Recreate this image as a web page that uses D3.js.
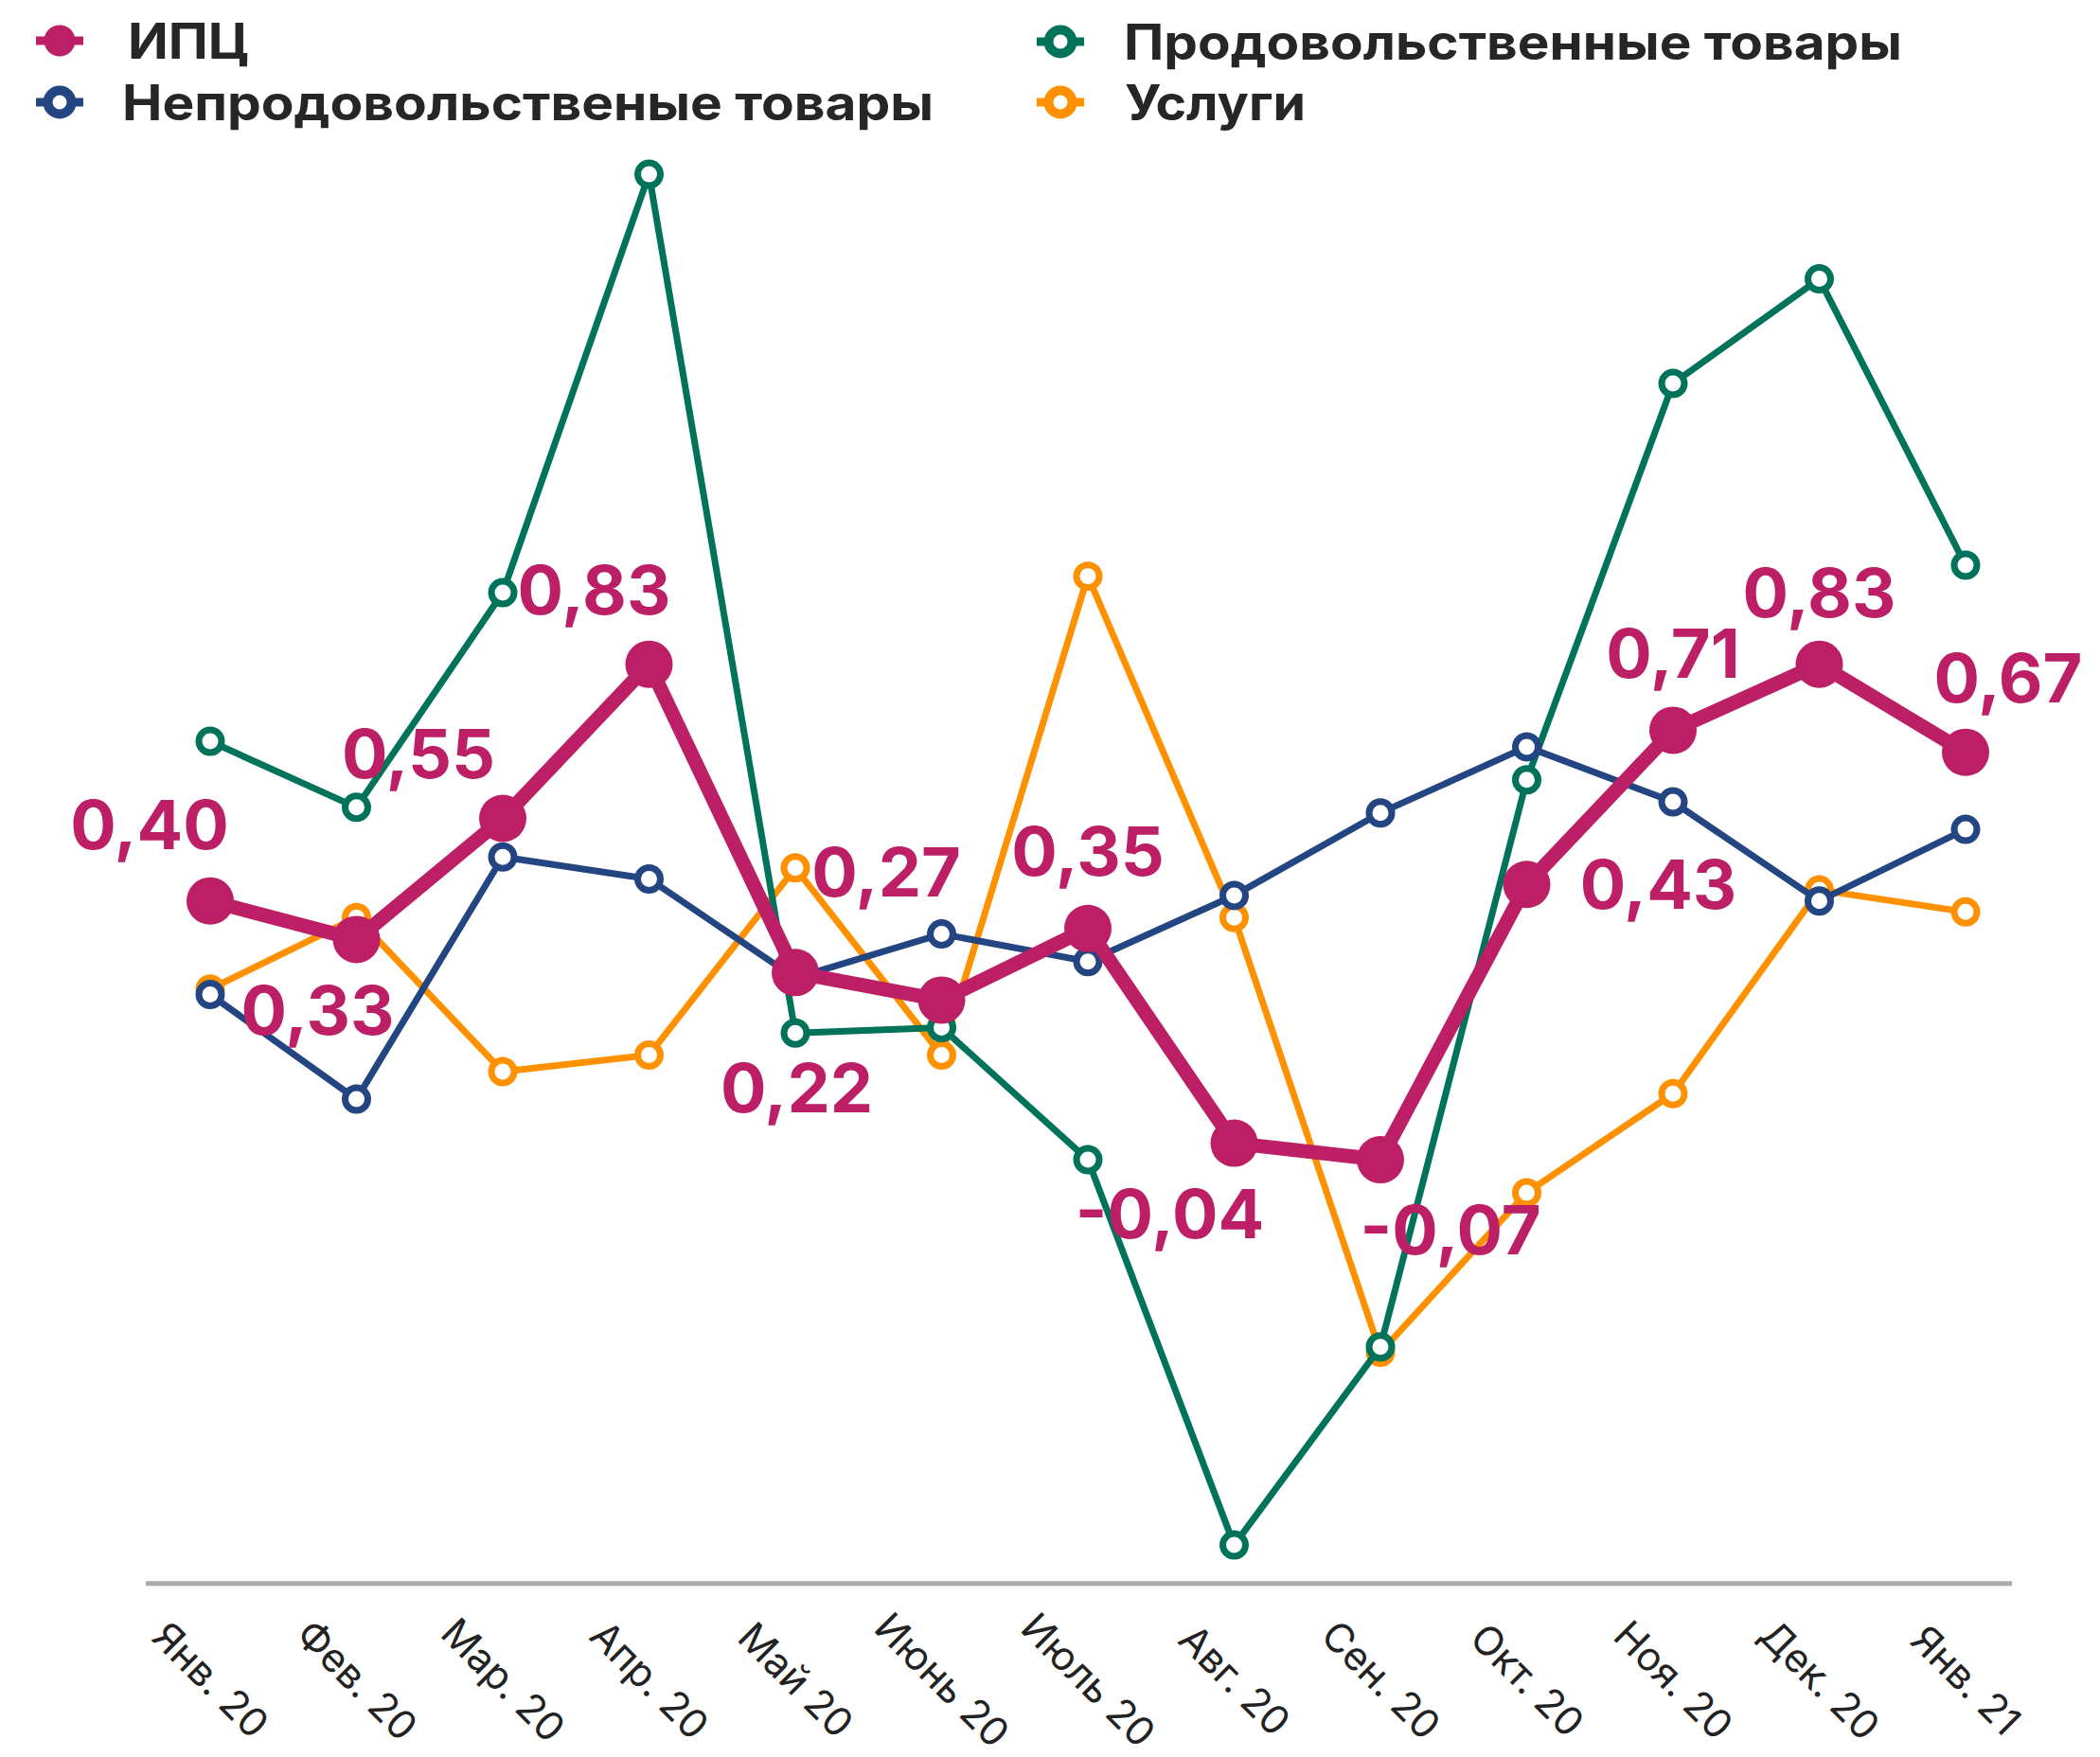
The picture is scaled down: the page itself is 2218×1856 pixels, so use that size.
<!DOCTYPE html>
<html>
<head>
<meta charset="utf-8">
<script src="https://cdn.jsdelivr.net/npm/d3@7"></script>
<style>
body { margin:0; background:#fff; }
</style>
</head>
<body>
<svg id="graph"></svg>
<script>
var months = ["Янв. 20","Фев. 20","Мар. 20","Апр. 20","Май 20","Июнь 20","Июль 20",
              "Авг. 20","Сен. 20","Окт. 20","Ноя. 20","Дек. 20","Янв. 21"];

var cpi      = [0.40, 0.33, 0.55, 0.83, 0.27, 0.22, 0.35, -0.04, -0.07, 0.43, 0.71, 0.83, 0.67];
var nonFood  = [0.23, 0.04, 0.48, 0.44, 0.26, 0.34, 0.29, 0.41, 0.56, 0.68, 0.58, 0.40, 0.53];
var food     = [0.69, 0.57, 0.96, 1.72, 0.16, 0.17, -0.07, -0.77, -0.41, 0.62, 1.34, 1.53, 1.01];
var services = [0.24, 0.37, 0.09, 0.12, 0.46, 0.12, 0.99, 0.37, -0.42, -0.13, 0.05, 0.42, 0.38];

var seriesNames = ["ИПЦ","Непродовольственые товары","Продовольственные товары","Услуги"];

// where each CPI label sits relative to its point
var labelOffsets = [[-64,-81],[-41,75],[-89,-68],[-58,-79],[96,-106],[-153,93],[0,-82],
                    [-68,74],[74,74],[139,0],[0,-81],[0,-76],[45,-79]];

var colors = {cpi:"#bc1f66", nonFood:"#234582", food:"#00735a", services:"#ff9100"};

var screen = {width:2218, height:1856};

var svg = d3.select("#graph")
    .attr("width",screen.width)
    .attr("height",screen.height)

var xScale = d3.scalePoint()
    .domain(months)
    .range([222,2076])

var yScale = d3.scaleLinear()
    .domain([-0.84,1.8])
    .range([1672.8,137.6])

var fmt = function(v)
{
    return d3.format(".2f")(v).replace(".",",").replace("−","-")
}

// bottom axis line only
var xAxis = d3.axisBottom(xScale).tickSize(0).tickPadding(0)
var axis = svg.append("g")
    .attr("transform","translate(0,"+yScale(-0.84)+")")
    .call(xAxis)
axis.select(".domain")
    .attr("stroke","#aaaaaa")
    .attr("stroke-width",5)
    .attr("d","M154,0H2125")
axis.selectAll(".tick text")
    .attr("font-family","Inter, 'Noto Sans', sans-serif")
    .attr("font-size",42)
    .attr("fill","#222")
    .attr("text-anchor","middle")
    .attr("dy","0.35em")
    .attr("transform","translate(0,102) rotate(45)")

var drawSeries = function(values,color,lineWidth)
{
    var line = d3.line()
        .x(function(d,i){ return xScale(months[i]); })
        .y(function(d){ return yScale(d); })
    var g = svg.append("g")
    g.append("path")
        .datum(values)
        .attr("d",line)
        .attr("fill","none")
        .attr("stroke",color)
        .attr("stroke-width",lineWidth)
        .attr("stroke-linejoin","round")
    g.selectAll("circle")
        .data(values)
        .enter()
        .append("circle")
        .attr("cx",function(d,i){ return xScale(months[i]); })
        .attr("cy",function(d){ return yScale(d); })
        .attr("r",12)
        .attr("fill","#fff")
        .attr("stroke",color)
        .attr("stroke-width",7)
}

drawSeries(services,colors.services,7)
drawSeries(food,colors.food,7)
drawSeries(nonFood,colors.nonFood,7)

// CPI on top, thick
var cpiLine = d3.line()
    .x(function(d,i){ return xScale(months[i]); })
    .y(function(d){ return yScale(d); })
svg.append("path")
    .datum(cpi)
    .attr("d",cpiLine)
    .attr("fill","none")
    .attr("stroke",colors.cpi)
    .attr("stroke-width",15)
    .attr("stroke-linejoin","round")
svg.append("g")
    .selectAll("circle")
    .data(cpi)
    .enter()
    .append("circle")
    .attr("cx",function(d,i){ return xScale(months[i]); })
    .attr("cy",function(d){ return yScale(d); })
    .attr("r",25)
    .attr("fill",colors.cpi)

svg.append("g")
    .selectAll("text")
    .data(cpi)
    .enter()
    .append("text")
    .attr("x",function(d,i){ return xScale(months[i])+labelOffsets[i][0]; })
    .attr("y",function(d,i){ return yScale(d)+labelOffsets[i][1]; })
    .attr("dy","0.36em")
    .attr("text-anchor","middle")
    .attr("font-family","Inter, 'DejaVu Sans', sans-serif")
    .attr("font-weight",700)
    .attr("font-size",72)
    .attr("fill",colors.cpi)
    .text(function(d){ return fmt(d); })

// legend
var legendItems = [
    {name:seriesNames[0], color:colors.cpi, filled:true, x:63, y:43, tx:135, w:128},
    {name:seriesNames[1], color:colors.nonFood, filled:false, x:63, y:108, tx:129, w:857},
    {name:seriesNames[2], color:colors.food, filled:false, x:1120, y:44, tx:1187, w:822},
    {name:seriesNames[3], color:colors.services, filled:false, x:1120, y:108, tx:1188, w:191}
]
var legend = svg.append("g")
legend.selectAll("line")
    .data(legendItems)
    .enter()
    .append("line")
    .attr("x1",function(d){ return d.x-25; })
    .attr("x2",function(d){ return d.x+25; })
    .attr("y1",function(d){ return d.y; })
    .attr("y2",function(d){ return d.y; })
    .attr("stroke",function(d){ return d.color; })
    .attr("stroke-width",9)
legend.selectAll("circle")
    .data(legendItems)
    .enter()
    .append("circle")
    .attr("cx",function(d){ return d.x; })
    .attr("cy",function(d){ return d.y; })
    .attr("r",function(d){ return d.filled ? 16.5 : 12.5; })
    .attr("fill",function(d){ return d.filled ? d.color : "#fff"; })
    .attr("stroke",function(d){ return d.filled ? "none" : d.color; })
    .attr("stroke-width",10)
legend.selectAll("text")
    .data(legendItems)
    .enter()
    .append("text")
    .attr("x",function(d){ return d.tx; })
    .attr("y",function(d){ return d.y+19; })
    .attr("font-family","Inter, 'DejaVu Sans', sans-serif")
    .attr("font-weight",700)
    .attr("font-size",52)
    .attr("fill","#262626")
    .attr("textLength",function(d){ return d.w; })
    .attr("lengthAdjust","spacingAndGlyphs")
    .text(function(d){ return d.name; })
</script>
</body>
</html>
